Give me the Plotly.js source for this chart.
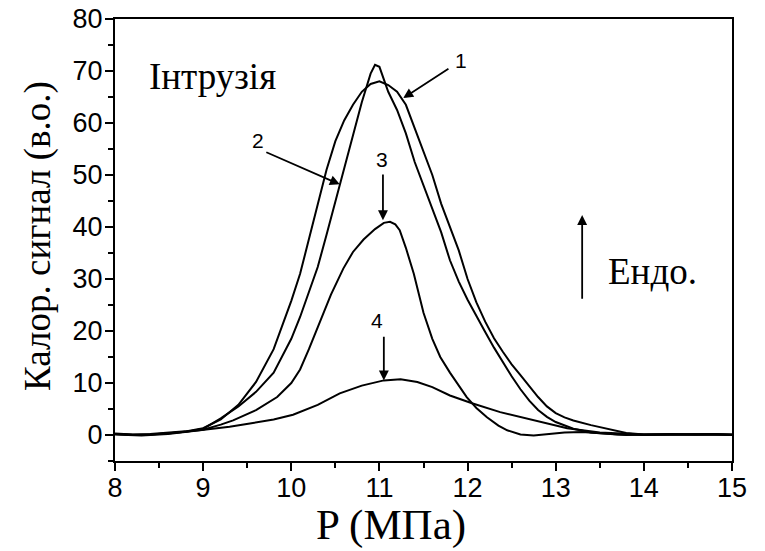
<!DOCTYPE html>
<html>
<head>
<meta charset="utf-8">
<script src="https://cdn.plot.ly/plotly-3.0.1.min.js"></script>
<style>html,body{margin:0;padding:0;background:#fff;}#chart{width:765px;height:551px;}</style>
</head>
<body>
<div id="chart"></div>
<script>
// Curve 1
const x1 = [8.0,8.2,8.4,8.6,8.8,9.0,9.2,9.4,9.6,9.8,10.0,10.1,10.2,10.3,10.4,10.5,10.6,10.7,10.8,10.9,11.0,11.1,11.2,11.3,11.4,11.5,11.6,11.7,11.8,11.9,12.0,12.1,12.2,12.3,12.4,12.5,12.6,12.7,12.8,12.9,13.0,13.1,13.2,13.4,13.6,13.8,14.0,14.2,14.4,14.6,14.8,15.0];
const y1 = [0.3,0.1,0.2,0.4,0.7,1.3,3.0,5.8,10.2,16.5,25.8,31.0,37.5,44.0,51.0,56.5,60.5,63.5,66.0,67.5,68.0,67.3,66.0,63.5,59.0,54.5,50.0,44.5,40.0,35.5,30.0,25.5,21.8,18.6,16.0,13.6,11.5,9.3,7.3,5.5,4.2,3.4,2.8,1.9,1.2,0.4,0.1,0.1,0.2,0.1,0.2,0.0];
// Curve 2
const x2 = [8.0,8.2,8.4,8.6,8.8,9.0,9.2,9.4,9.6,9.8,10.0,10.1,10.2,10.3,10.4,10.5,10.6,10.7,10.8,10.9,10.95,11.0,11.05,11.1,11.2,11.3,11.4,11.5,11.6,11.7,11.8,11.9,12.0,12.1,12.2,12.3,12.4,12.5,12.6,12.7,12.8,12.9,13.0,13.2,13.4,13.6,13.8,14.0,14.3,14.6,14.8,15.0];
const y2 = [0.2,0.0,0.1,0.3,0.6,1.2,3.2,5.5,8.3,12.0,18.5,22.7,27.5,32.3,38.5,45.0,51.5,58.0,64.0,69.5,71.2,70.8,68.5,66.0,62.5,58.0,52.5,48.0,43.5,39.0,33.6,29.5,26.0,22.8,19.8,16.8,14.0,11.3,8.8,6.6,4.8,3.5,2.5,1.2,0.5,0.2,0.0,0.1,0.2,0.1,0.2,0.1];
// Curve 3
const x3 = [8.0,8.3,8.6,9.0,9.2,9.34,9.6,9.84,10.0,10.1,10.2,10.33,10.45,10.59,10.7,10.82,10.95,11.05,11.12,11.18,11.23,11.3,11.39,11.5,11.6,11.69,11.8,11.99,12.1,12.22,12.35,12.45,12.6,12.75,12.9,13.1,13.3,13.5,13.7,14.0,14.3,14.6,15.0];
const y3 = [0.2,0.0,0.3,1.0,2.0,2.8,4.8,7.3,10.0,12.6,16.5,22.0,27.0,32.0,35.2,37.6,39.6,40.8,41.0,40.5,39.4,36.0,31.0,23.5,18.5,15.0,12.0,7.3,5.2,3.4,1.8,0.9,0.1,-0.1,0.2,0.5,0.6,0.3,0.1,0.0,0.1,0.1,0.0];
// Curve 4
const x4 = [8.0,8.3,8.6,8.96,9.3,9.53,9.8,10.02,10.3,10.55,10.8,11.05,11.24,11.43,11.6,11.8,12.05,12.37,12.75,13.13,13.5,14.0,14.5,15.0];
const y4 = [0.1,-0.1,0.2,0.9,1.6,2.2,3.0,3.9,5.8,8.0,9.5,10.5,10.7,10.2,9.2,7.6,6.1,4.4,2.8,1.3,0.5,0.1,0.1,0.1];

const xTicks = [8,9,10,11,12,13,14,15];
const yTicks = [0,10,20,30,40,50,60,70,80];
const xTitle = "P (МПа)";
const yTitle = "Калор. сигнал (в.о.)";
const curveLabels = ["1","2","3","4"];
const textIntrusion = "Інтрузія";
const textEndo = "Ендо.";

const line = {color:'#000', width:2};
const traces = [[x1,y1],[x2,y2],[x3,y3],[x4,y4]].map(([x,y]) => ({
  x, y, type:'scatter', mode:'lines', line, hoverinfo:'skip', showlegend:false
}));

const serifFam = 'Liberation Serif, Times New Roman, serif';
const serif = {family:serifFam, size:37, color:'#000'};
const serifBig = {family:serifFam, size:43, color:'#000'};
const sans = {family:'Liberation Sans, Arial, sans-serif', size:21, color:'#000'};

const arrowBase = {xref:'x', yref:'y', axref:'x', ayref:'y', showarrow:true, arrowhead:2, arrowsize:1.1, arrowwidth:1.8, arrowcolor:'#000', text:''};

const annotations = [
  // curve labels
  {xref:'x', yref:'y', x:11.92, y:72.1, text:curveLabels[0], showarrow:false, font:sans},
  {xref:'x', yref:'y', x:9.62, y:56.7, text:curveLabels[1], showarrow:false, font:sans},
  {xref:'x', yref:'y', x:11.03, y:52.9, text:curveLabels[2], showarrow:false, font:sans},
  {xref:'x', yref:'y', x:10.97, y:22.0, text:curveLabels[3], showarrow:false, font:sans},
  // arrows
  Object.assign({}, arrowBase, {x:11.27, y:64.8, ax:11.80, ay:70.6}),
  Object.assign({}, arrowBase, {x:10.55, y:48.2, ax:9.70, ay:54.5}),
  Object.assign({}, arrowBase, {x:11.04, y:41.3, ax:11.04, ay:50.4}),
  Object.assign({}, arrowBase, {x:11.05, y:10.5, ax:11.05, ay:19.2}),
  Object.assign({}, arrowBase, {x:13.3, y:42.3, ax:13.3, ay:25.9}),
  // texts
  {xref:'x', yref:'y', x:9.11, y:69.0, text:textIntrusion, showarrow:false, font:serif},
  {xref:'x', yref:'y', x:14.1, y:31.5, text:textEndo, showarrow:false, font:serif},
  // axis titles
  {xref:'paper', yref:'paper', x:0.447, y:-0.145, yanchor:'middle', text:xTitle, showarrow:false, font:serifBig},
  {xref:'paper', yref:'paper', x:-0.125, y:0.509, xanchor:'center', yanchor:'middle', textangle:-90, text:yTitle, showarrow:false, font:serif}
];

const axisCommon = {
  showline:true, mirror:true, linecolor:'#000', linewidth:2,
  ticks:'outside', ticklen:8, tickwidth:2, tickcolor:'#000',
  showgrid:false, zeroline:false,
  tickfont:{family:'Liberation Sans, Arial, sans-serif', size:27, color:'#000'}
};

const layout = {
  width:765, height:551,
  margin:{l:115, r:33, t:19, b:90},
  paper_bgcolor:'#fff', plot_bgcolor:'#fff',
  xaxis: Object.assign({}, axisCommon, {
    range:[8,15], tickvals:xTicks, ticktext:xTicks.map(String), ticklabelstandoff:-6,
    minor:{ticks:'outside', ticklen:5, tickwidth:2, tickcolor:'#000', dtick:0.5, tick0:8, showgrid:false}
  }),
  yaxis: Object.assign({}, axisCommon, {
    range:[-5,80], tickvals:yTicks, ticktext:yTicks.map(String), ticklabelstandoff:-3,
    minor:{ticks:'outside', ticklen:5, tickwidth:2, tickcolor:'#000', dtick:5, tick0:0, showgrid:false}
  }),
  annotations
};

Plotly.newPlot('chart', traces, layout, {staticPlot:true, displayModeBar:false});
</script>
</body>
</html>
